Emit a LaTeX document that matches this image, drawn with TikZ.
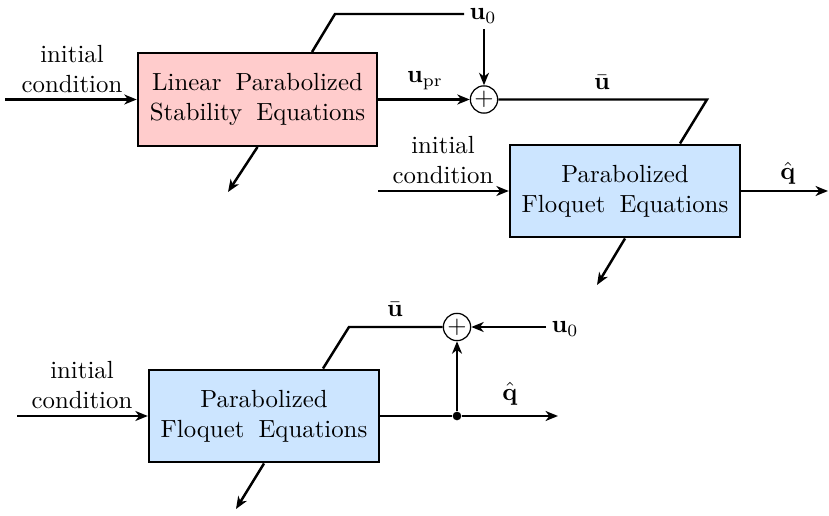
\documentclass[tikz,border=0pt]{standalone}
\usetikzlibrary{arrows.meta,calc}
\definecolor{pinkfill}{RGB}{255,204,204}
\definecolor{bluefill}{RGB}{204,229,255}
\newcommand{\wsp}{\hspace{5.7pt}}
\begin{document}
\begin{tikzpicture}[x=0.4032pt,y=-0.4032pt,
  blk/.style={draw,line width=1pt,minimum height=37.3pt,align=center,inner sep=2pt},
  sumnode/.style={draw,circle,line width=0.5pt,minimum size=11pt,inner sep=0pt},
  conn/.style={line width=1pt},
  arr/.style={line width=1pt,-{Stealth[length=5pt,width=4pt,inset=1.5pt]}},
  lbl/.style={align=center,inner sep=0pt},
  sig/.style={inner sep=2pt}]
\useasboundingbox (0,0) rectangle (829,516);

% blocks
\node[blk,fill=pinkfill,minimum width=96.4pt] (b1) at (257.5,99.5) {Linear\wsp Parabolized\\Stability\wsp Equations};
\node[blk,fill=bluefill,minimum width=92.7pt] (b2) at (625,191) {Parabolized\\Floquet\wsp Equations};
\node[blk,fill=bluefill,minimum width=92.7pt] (b3) at (264,416) {Parabolized\\Floquet\wsp Equations};

% summing junctions and branch dot
\node[sumnode] (s1) at (484,99.5) {$+$};
\node[sumnode] (s2) at (457,327) {$+$};
\node[circle,fill,inner sep=0pt,minimum size=3.5pt] (d) at (457,416) {};

% signal labels
\node[sig,anchor=base] (u0a) at (483,20) {$\mathbf{u}_0$};
\node[sig,anchor=base] (u0b) at (565,333) {$\mathbf{u}_0$};
\node[anchor=base] (upr) at (425,83) {$\mathbf{u}_{\mathrm{pr}}$};
\node[anchor=base] (ub1) at (602,90) {$\bar{\mathbf{u}}$};
\node[anchor=base] (qh1) at (788,180) {$\hat{\mathbf{q}}$};
\node[anchor=base] (ub2) at (395,317) {$\bar{\mathbf{u}}$};
\node[anchor=base] (qh2) at (510,400) {$\hat{\mathbf{q}}$};

% initial condition labels
\node[lbl] (i1) at (72,69) {initial\\condition};
\node[lbl] (i2) at (443,160) {initial\\condition};
\node[lbl] (i3) at (82,385) {initial\\condition};

% free ends and bends
\coordinate (in1) at (5,99.5);
\coordinate (in2) at (378,191);
\coordinate (in3) at (17,416);
\coordinate (k1) at (335,14);
\coordinate (k2) at (707,99.5);
\coordinate (k3) at (349,327);
\coordinate (out1) at (828,191);
\coordinate (out3) at (558,416);
\coordinate (e1) at (228,192);
\coordinate (e2) at (597,285);
\coordinate (e3) at (236,509);

% top system
\draw[arr] (in1) -- (b1.west);
\draw[conn] ($(b1.north)+(54.5,0)$) -- (k1) -- (k1 -| u0a.west);
\draw[arr] (u0a.south -| s1) -- (s1.north);
\draw[arr] (b1.east) -- (s1.west);
\draw[conn] (s1.east) -- (k2) -- ($(b2.north)+(55,0)$);
\draw[arr] (b1.south) -- (e1);
\draw[arr] (in2) -- (b2.west);
\draw[arr] (b2.east) -- (out1);
\draw[arr] (b2.south) -- (e2);

% bottom system
\draw[arr] (in3) -- (b3.west);
\draw[conn] ($(b3.north)+(59,0)$) -- (k3) -- (s2.west);
\draw[arr] (u0b.west |- s2) -- (s2.east);
\draw[conn] (b3.east) -- (d);
\draw[arr] (d) -- (out3);
\draw[arr] (d) -- (s2.south);
\draw[arr] (b3.south) -- (e3);
\end{tikzpicture}
\end{document}
